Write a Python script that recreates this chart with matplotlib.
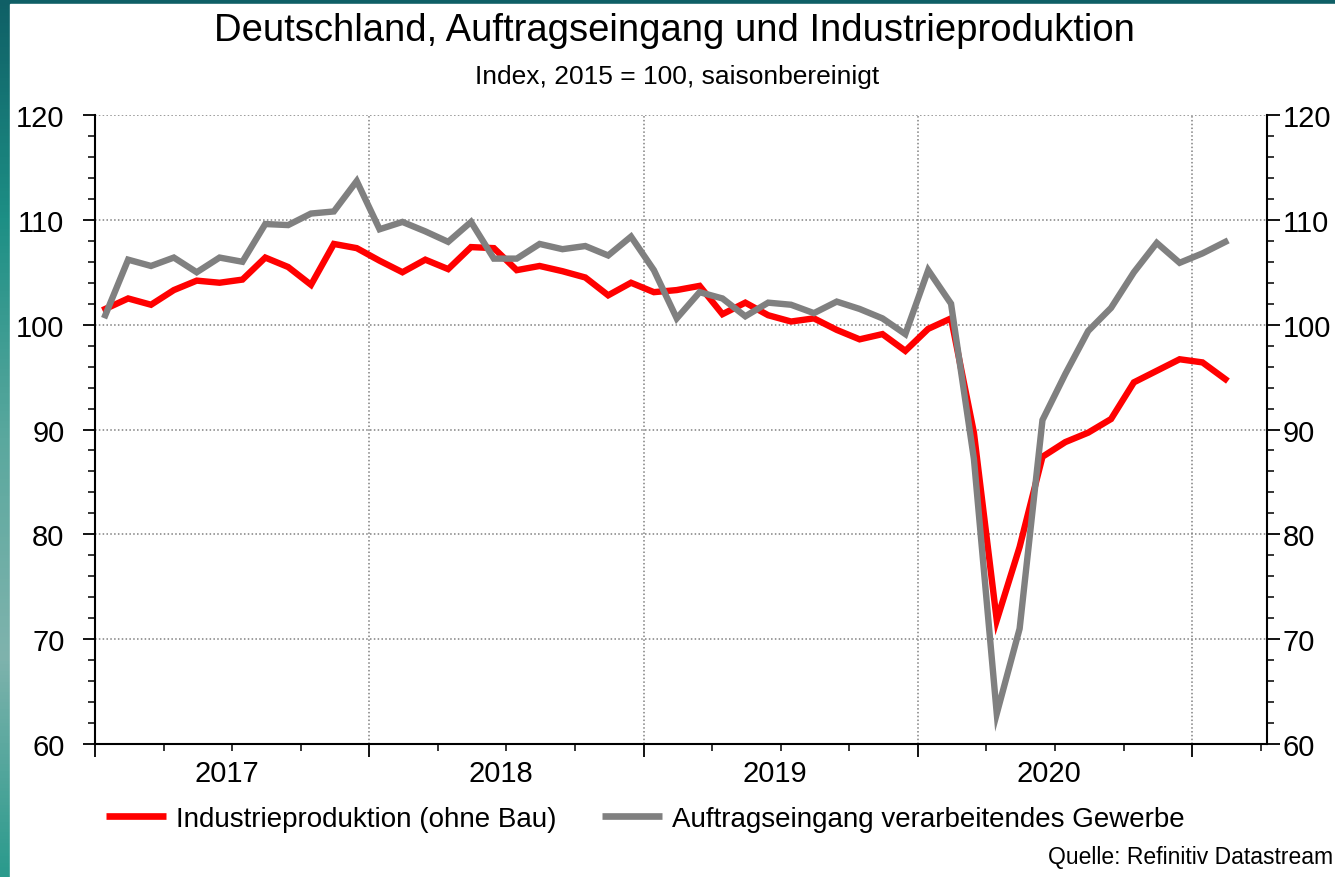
import matplotlib
matplotlib.use("Agg")
import matplotlib.pyplot as plt
import numpy as np
from matplotlib.ticker import FixedLocator, MultipleLocator, NullFormatter
from matplotlib.colors import LinearSegmentedColormap

plt.rcParams['font.family'] = ['Liberation Sans', 'DejaVu Sans']

# Monthly data Jan 2017 .. Feb 2021
industrieproduktion = [
    101.5, 102.5, 101.9, 103.3, 104.2, 104.0, 104.3, 106.4, 105.5, 103.8, 107.7, 107.3,
    106.1, 105.0, 106.2, 105.3, 107.4, 107.3, 105.2, 105.6, 105.1, 104.5, 102.8, 104.0,
    103.1, 103.3, 103.7, 101.0, 102.1, 100.9, 100.3, 100.6, 99.5, 98.6, 99.1, 97.5,
    99.6, 100.6, 89.7, 71.8, 78.8, 87.4, 88.8, 89.7, 91.0, 94.5, 95.6, 96.7,
    96.4, 94.8,
]
auftragseingang = [
    100.9, 106.2, 105.6, 106.4, 105.0, 106.4, 106.0, 109.6, 109.5, 110.6, 110.8, 113.7,
    109.1, 109.8, 108.9, 107.9, 109.8, 106.3, 106.3, 107.7, 107.2, 107.5, 106.6, 108.4,
    105.2, 100.6, 103.1, 102.5, 100.8, 102.1, 101.9, 101.1, 102.2, 101.5, 100.6, 99.1,
    105.2, 102.0, 87.2, 62.9, 71.0, 90.9, 95.3, 99.4, 101.6, 105.0, 107.8, 105.9,
    106.8, 107.9,
]
year_labels = ["2017", "2018", "2019", "2020"]
series_names = ["Industrieproduktion (ohne Bau)", "Auftragseingang verarbeitendes Gewerbe"]

W, H = 1335, 878
fig = plt.figure(figsize=(W / 100, H / 100), dpi=100)

# decorative background strips (left and top)
bg = fig.add_axes([0, 0, 1, 1], zorder=-10)
grad = np.linspace(0, 1, 256).reshape(-1, 1)
cmap = LinearSegmentedColormap.from_list("teal", ["#0f5f66", "#1d8f85", "#5aa89e", "#7fb3ad", "#2a9a8c"])
bg.imshow(grad, aspect="auto", cmap=cmap, extent=[0, 1, 0, 1])
bg.add_patch(plt.Rectangle((10 / W, 0), 1 - 10 / W, 1 - 5 / H, color="white", transform=bg.transAxes))
bg.set_axis_off()

rect = [95 / W, (H - 745) / H, (1267 - 95) / W, (745 - 116) / H]
ax = fig.add_axes(rect)
ax.set_facecolor("white")

n = len(industrieproduktion)
x = np.arange(n) + 0.45
ax.plot(x, industrieproduktion, color="#ff0000", lw=4.6, solid_joinstyle="miter", zorder=3,
        label=series_names[0])
ax.plot(x, auftragseingang, color="#808080", lw=4.6, solid_joinstyle="miter", zorder=4,
        label=series_names[1])

months_per_px = 12 / 274.3
ax.set_xlim(0, (1267 - 95) * months_per_px)
ax.set_ylim(60, 120)

# left y axis
ax.yaxis.set_major_locator(MultipleLocator(10))
ax.yaxis.set_minor_locator(MultipleLocator(2))
ax.tick_params(axis="y", which="major", direction="out", length=9, width=1.3, labelsize=21,
               left=True, right=False, labelleft=True, labelright=False, pad=13)
ax.tick_params(axis="y", which="minor", direction="out", length=5, width=1.1, left=True, right=False)

# right y axis (same scale)
axr = ax.twinx()
axr.set_ylim(ax.get_ylim())
axr.yaxis.set_major_locator(MultipleLocator(10))
axr.yaxis.set_minor_locator(MultipleLocator(2))
axr.tick_params(axis="y", which="major", direction="out", length=9, width=1.3, labelsize=21, pad=2.5)
axr.tick_params(axis="y", which="minor", direction="out", length=5, width=1.1)
for s in axr.spines.values():
    s.set_visible(False)

# x axis: year boundaries major ticks, quarterly minor ticks
ax.xaxis.set_major_locator(FixedLocator([0, 12, 24, 36, 48]))
ax.xaxis.set_minor_locator(FixedLocator([q for q in range(0, 52, 3) if q % 12 != 0]))
ax.xaxis.set_major_formatter(NullFormatter())
ax.tick_params(axis="x", which="major", direction="out", length=9, width=1.3)
ax.tick_params(axis="x", which="minor", direction="out", length=5, width=1.1)
for i, lab in enumerate(year_labels):
    ax.text(12 * i + 5.75, -0.024, lab, transform=ax.get_xaxis_transform(), ha="center", va="top",
            fontsize=21)

# grid
for v in [70, 80, 90, 100, 110, 120]:
    ax.axhline(v, color="#808080", lw=1.1, ls=(0, (1, 1.5)), zorder=1)
for v in [12, 24, 36, 48]:
    ax.axvline(v, color="#808080", lw=1.1, ls=(0, (1, 1.5)), zorder=1)

for s in ["left", "right", "bottom"]:
    ax.spines[s].set_linewidth(1.5)
ax.spines["top"].set_visible(False)

fig.text(674 / W, 1 - 31 / H, "Deutschland, Auftragseingang und Industrieproduktion",
         ha="center", va="center", fontsize=27.5)
fig.text(677 / W, 1 - 77 / H, "Index, 2015 = 100, saisonbereinigt", ha="center", va="center",
         fontsize=19)

leg = fig.legend(loc="center left", bbox_to_anchor=(81 / W, 1 - 820 / H), ncol=2, frameon=False,
                 fontsize=20, handlelength=2.15, handletextpad=0.38, columnspacing=1.62)
for line in leg.get_lines():
    line.set_linewidth(4.8)
    line.set_solid_capstyle("butt")

fig.text(1333 / W, 1 - 858 / H, "Quelle: Refinitiv Datastream", ha="right", va="center", fontsize=16.5)

fig.savefig("out.png", dpi=100)
